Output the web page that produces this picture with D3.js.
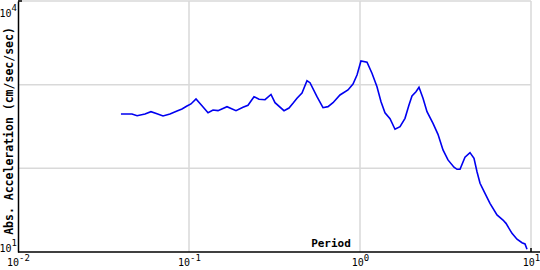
<!DOCTYPE html>
<html>
<head>
<meta charset="utf-8">
<title>Response spectrum</title>
<style>
  body { margin: 0; background: #fff; }
  svg { display: block; }
  text { font-family: "DejaVu Sans Mono", monospace; fill: #000; }
</style>
<script src="https://d3js.org/d3.v7.min.js"></script>
</head>
<body>
<svg width="540" height="270"></svg>
<script>
// period (sec) and absolute acceleration (cm/sec/sec)
var period = [0.0400, 0.0464, 0.0497, 0.0553, 0.0599, 0.0650, 0.0705, 0.0774, 0.0851, 0.0910,
  0.0973, 0.1027, 0.1099, 0.1191, 0.1292, 0.1382, 0.1478, 0.1668, 0.1883, 0.2069,
  0.2213, 0.2399, 0.2567, 0.2783, 0.3017, 0.3184, 0.3594, 0.3844, 0.4056, 0.4281,
  0.4579, 0.4898, 0.5100, 0.5603, 0.6075, 0.6500, 0.6953, 0.7638, 0.8507, 0.9101,
  0.9605, 1.013, 1.099, 1.175, 1.257, 1.327, 1.400, 1.498, 1.602, 1.714,
  1.833, 1.934, 2.014, 2.125, 2.213, 2.336, 2.465, 2.673, 2.858, 3.058,
  3.270, 3.545, 3.693, 3.845, 4.111, 4.398, 4.642, 4.833, 5.034, 5.383,
  5.756, 6.326, 6.860, 7.142, 7.743, 8.282, 8.860, 9.225, 9.476];
var accel = [446, 446, 426, 446, 475, 450, 422, 446, 485, 512,
  556, 588, 674, 561, 462, 498, 489, 546, 489, 537,
  567, 718, 669, 661, 763, 609, 489, 526, 599, 687,
  795, 1115, 1056, 718, 531, 546, 609, 753, 864, 1019,
  1305, 1918, 1851, 1368, 946, 626, 462, 392, 293, 315,
  396, 572, 732, 824, 930, 687, 475, 345, 255, 166,
  126, 103, 97.4, 97.4, 136, 154, 132, 91.1, 66.3, 50.3,
  38.2, 27.7, 24.1, 22.0, 16.7, 14.2, 12.9, 12.5, 10.8];

var xTicks = [0.01, 0.1, 1, 10];
var xTickExp = ["-2", "-1", "0", "1"];
var yGrid = [100, 1000, 10000];
var yTicks = [10000, 10];
var yTickExp = ["4", "1"];

var svg = d3.select("svg");
var x = d3.scaleLog().domain([0.01, 10]).range([18, 531]);
var y = d3.scaleLog().domain([10, 10000]).range([252, 1]);

// grid
svg.append("g").selectAll("line").data(xTicks.slice(1)).enter().append("line")
  .attr("x1", function(d) { return x(d); }).attr("x2", function(d) { return x(d); })
  .attr("y1", y(10)).attr("y2", y(10000))
  .attr("stroke", "#d9d9d9").attr("stroke-width", 1.5);
svg.append("g").selectAll("line").data(yGrid).enter().append("line")
  .attr("x1", x(0.01)).attr("x2", x(10))
  .attr("y1", function(d) { return y(d); }).attr("y2", function(d) { return y(d); })
  .attr("stroke", "#d9d9d9").attr("stroke-width", 1.5);

// axes
var xAxis = svg.append("g").attr("transform", "translate(0," + y(10) + ")")
  .call(d3.axisBottom(x).tickValues(xTicks).tickSize(0).tickSizeOuter(0).tickFormat(""));
xAxis.select(".domain").attr("d", "M" + x(0.01) + ",0H540").attr("stroke-width", 1.5);
xAxis.selectAll(".tick text").remove();
xAxis.selectAll(".tick").append("text")
  .attr("text-anchor", "middle").attr("y", 14).style("font-size", "10px")
  .each(function(d, i) {
    var t = d3.select(this);
    t.append("tspan").text("10");
    t.append("tspan").attr("dy", -5).style("font-size", "9px").text(xTickExp[i]);
  });

var yAxis = svg.append("g").attr("transform", "translate(" + x(0.01) + ",0)")
  .call(d3.axisLeft(y).tickValues(yTicks).tickSize(0).tickSizeOuter(0).tickFormat(""));
yAxis.select(".domain").attr("stroke-width", 1.5);
yAxis.selectAll(".tick text").remove();
yAxis.selectAll(".tick").append("text")
  .attr("text-anchor", "end").attr("x", -1)
  .attr("y", function(d) { return d === 10000 ? 15 : -1; })
  .style("font-size", "10px")
  .each(function(d, i) {
    var t = d3.select(this);
    t.append("tspan").text("10");
    t.append("tspan").attr("dy", -6).style("font-size", "9px").text(yTickExp[i]);
  });

// end ticks
svg.append("line").attr("x1", x(10)).attr("x2", x(10))
  .attr("y1", y(10)).attr("y2", y(10) - 4).attr("stroke", "#000").attr("stroke-width", 1.5);
svg.append("line").attr("x1", x(0.01)).attr("x2", x(0.01) + 4)
  .attr("y1", y(10000)).attr("y2", y(10000)).attr("stroke", "#000").attr("stroke-width", 1.5);

// titles
svg.append("text").attr("x", 331).attr("y", 247).attr("text-anchor", "middle")
  .style("font-size", "11px").style("font-weight", "bold").text("Period");
svg.append("text").attr("transform", "translate(12.5,131) rotate(-90)")
  .attr("text-anchor", "middle").style("font-size", "11.5px").style("font-weight", "bold")
  .text("Abs. Acceleration (cm/sec/sec)");

// spectrum
var line = d3.line()
  .x(function(d, i) { return x(period[i]); })
  .y(function(d) { return y(d); });
svg.append("path").datum(accel)
  .attr("d", line)
  .attr("fill", "none").attr("stroke", "#0000f0").attr("stroke-width", 1.6);
</script>
</body>
</html>
